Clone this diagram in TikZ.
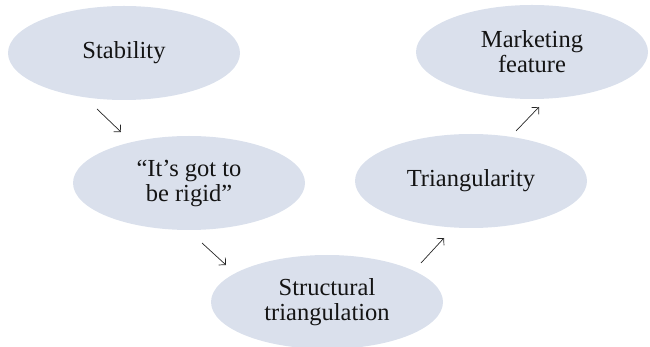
\documentclass[tikz,border=0pt]{standalone}
\usepackage{fontspec}
\setmainfont{Liberation Serif}
\usetikzlibrary{shapes.geometric,arrows.meta}
\definecolor{ellfill}{RGB}{218,224,236}
\definecolor{txt}{RGB}{20,20,20}
\tikzset{
  bubble/.style={ellipse, fill=ellfill, draw=none, minimum width=232pt, minimum height=94pt,
    inner sep=0pt, align=center, text=txt, font=\fontsize{24.5}{25}\selectfont},
  flow/.style={draw=black!85, line width=0.7pt, -{Straight Barb[angle=90:7pt]}}
}
\begin{document}
\begin{tikzpicture}[x=1pt,y=-1pt]
\useasboundingbox (0,0) rectangle (650,347);
\clip (0,0) rectangle (650,347);
\node[bubble] (stab) at (124,53) {Stability};
\node[bubble] (rigid) at (189,183) {“It’s got to\\be rigid”};
\node[bubble] (struct) at (327,302) {Structural\\triangulation};
\node[bubble] (tri) at (471,181) {Triangularity};
\node[bubble] (mkt) at (532,52) {Marketing\\feature};
\coordinate (a1s) at (97,109);
\coordinate (a1e) at (121,132);
\coordinate (a2s) at (202,243);
\coordinate (a2e) at (226,265);
\coordinate (a3s) at (421,263);
\coordinate (a3e) at (444,238);
\coordinate (a4s) at (516,131);
\coordinate (a4e) at (539,107);
\draw[flow] (a1s) -- (a1e);
\draw[flow] (a2s) -- (a2e);
\draw[flow] (a3s) -- (a3e);
\draw[flow] (a4s) -- (a4e);
\end{tikzpicture}
\end{document}
